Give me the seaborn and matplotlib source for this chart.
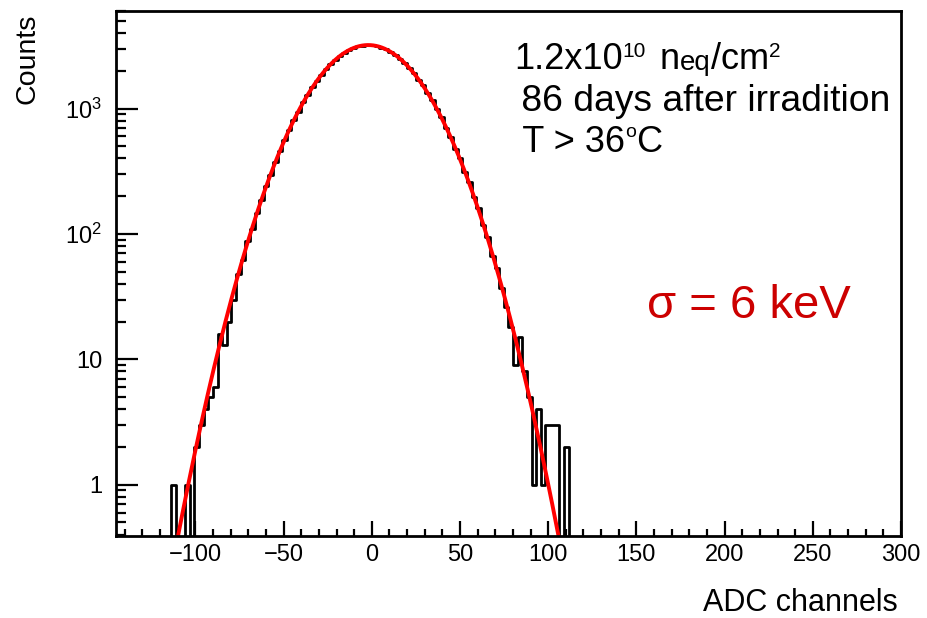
import numpy as np
import pandas as pd
import matplotlib
matplotlib.use("Agg")
import matplotlib.pyplot as plt
import seaborn as sns
from matplotlib.ticker import FixedLocator, FixedFormatter, MultipleLocator, LogLocator, NullFormatter

# ---------------- data ----------------
x_min, x_max = -145.0, 300.0
n_bins = 170
first_bin = 12          # index of the first bin listed below
bin_counts = [
    1, 0, 0, 1, 0, 2, 3, 4, 5, 6,            # k=12..21
    16, 13, 20, 30, 48, 62, 88, 110, 148, 185,   # k=22..31
    242, 296, 378, 455, 566, 671, 812, 944, 1118, 1276,  # k=32..41
    1475, 1652, 1869, 2052, 2265, 2441, 2634, 2781, 2940, 3038,  # k=42..51
    3140, 3180, 3215, 3190, 3160, 3065, 2975, 2820, 2688, 2490,  # k=52..61
    2322, 2105, 1930, 1705, 1532, 1325, 1168, 985, 855, 702,    # k=62..71
    598, 478, 402, 312, 262, 196, 160, 118, 95, 67,             # k=72..81
    54, 37, 26, 18, 9, 15, 8, 5, 1, 4,                          # k=82..91
    1, 3, 3, 3, 0, 2,                                           # k=92..97
]
fit_amplitude = 3210.0
fit_mean = -2.0
fit_sigma = 25.4

y_ticks = [1, 10, 100, 1000]
y_tick_labels = ["1", "10", "$10^{2}$", "$10^{3}$"]
x_ticks = [-100, -50, 0, 50, 100, 150, 200, 250, 300]

# annotation pieces: (text, role) ; role: main / sup / sub / deg
line1_pieces = [("1.2x10", "main"), ("10", "sup"), (" n", "main"), ("eq", "sub"),
                ("/cm", "main"), ("2", "sup")]
line2_text = " 86 days after irradition"
line3_pieces = [(" T > 36", "main"), ("o", "deg"), ("C", "main")]
sigma_text = "σ = 6 keV"
x_label = "ADC channels"
y_label = "Counts"

# ---------------- build ----------------
edges = np.linspace(x_min, x_max, n_bins + 1)
width = edges[1] - edges[0]
centers = edges[first_bin:first_bin + len(bin_counts)] + width / 2
df = pd.DataFrame({"adc": centers, "counts": np.array(bin_counts, dtype=float)})

xs = np.linspace(x_min, x_max, 2000)
fit_df = pd.DataFrame({"x": xs,
                       "y": fit_amplitude * np.exp(-(xs - fit_mean) ** 2 / (2 * fit_sigma ** 2))})

sns.set_theme(style="white")
plt.rcParams["font.family"] = ["Liberation Sans", "DejaVu Sans"]
plt.rcParams["mathtext.fontset"] = "custom"
plt.rcParams["mathtext.rm"] = "Liberation Sans"
plt.rcParams["mathtext.it"] = "Liberation Sans:italic"
plt.rcParams["mathtext.bf"] = "Liberation Sans:bold"
plt.rcParams["text.color"] = "black"
plt.rcParams["xtick.color"] = "black"
plt.rcParams["ytick.color"] = "black"
plt.rcParams["axes.labelcolor"] = "black"

W, H = 928, 618
fig = plt.figure(figsize=(W / 100, H / 100), dpi=100)
ax = fig.add_axes([116 / W, 1 - 536 / H, (901 - 116) / W, (536 - 11) / H])

ax.set_yscale("log")
sns.histplot(data=df, x="adc", weights="counts", bins=n_bins, binrange=(x_min, x_max),
             element="step", fill=False, color="black", linewidth=2.0, ax=ax)
fit_df_pos = fit_df[fit_df["y"] > 1e-3]
sns.lineplot(data=fit_df_pos, x="x", y="y", color="#ff0000", linewidth=2.8, ax=ax)

ax.set_xlim(x_min, x_max)
ax.set_ylim(0.39, 6000)

for s in ax.spines.values():
    s.set_color("black")
    s.set_linewidth(2.0)

ax.yaxis.set_major_locator(FixedLocator(y_ticks))
ax.yaxis.set_major_formatter(FixedFormatter(y_tick_labels))
ax.yaxis.set_minor_locator(LogLocator(base=10, subs=np.arange(2, 10)))
ax.yaxis.set_minor_formatter(NullFormatter())
ax.xaxis.set_major_locator(FixedLocator(x_ticks))
ax.xaxis.set_minor_locator(MultipleLocator(10))

ax.tick_params(axis="y", which="major", direction="in", length=16, width=1.6,
               labelsize=17, pad=10, left=True, right=False, colors="black")
ax.tick_params(axis="y", which="minor", direction="in", length=7, width=1.6,
               left=True, right=False, colors="black")
ax.tick_params(axis="x", which="major", direction="in", length=11, width=1.6,
               labelsize=17, pad=6, bottom=True, top=False, colors="black")
ax.tick_params(axis="x", which="minor", direction="in", length=5, width=1.6,
               bottom=True, top=False, colors="black")

ax.set_xlabel("")
ax.set_ylabel("")
fig.text(898 / W, 1 - 611 / H, x_label, ha="right", va="baseline", fontsize=22,
         color="black")
fig.text(28 / W, 1 - 14 / H, y_label, ha="center", va="top", rotation=90, fontsize=20.5,
         color="black")

renderer = fig.canvas.get_renderer()
# role -> (font size, raise in px, extra gap after in px)
styles = {"main": (26, 0, 0), "sup": (15, 12, 4), "sub": (20, -1, 0), "deg": (14, 15, 0)}


def draw_pieces(x_px, base_px, pieces):
    x = x_px
    for txt, role in pieces:
        size, dy, gap = styles[role]
        t = fig.text(x / W, 1 - (base_px - dy) / H, txt, ha="left", va="baseline",
                     fontsize=size, color="black")
        bb = t.get_window_extent(renderer)
        x += bb.width + gap


draw_pieces(514, 69, line1_pieces)
fig.text(511 / W, 1 - 111 / H, line2_text, ha="left", va="baseline", fontsize=26.8,
         color="black")
draw_pieces(513, 152, line3_pieces)

fig.text(647 / W, 1 - 318 / H, sigma_text, ha="left", va="baseline",
         fontsize=34, color="#cc0000")

fig.savefig("out.png", dpi=100, facecolor="white")
